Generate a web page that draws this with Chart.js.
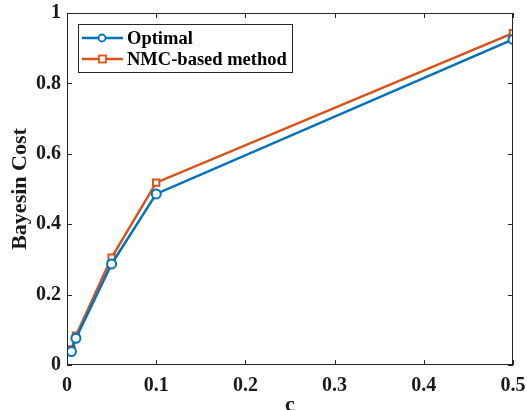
<!DOCTYPE html>
<html>
<head>
<meta charset="utf-8">
<script src="https://cdn.jsdelivr.net/npm/chart.js@4"></script>
<style>
  html,body{margin:0;padding:0;background:#fff;}
  #wrap{width:527px;height:410px;}
</style>
</head>
<body>
<div id="wrap"><canvas id="chart" width="527" height="410"></canvas></div>
<script>
// data
const cValues = [0.005, 0.01, 0.05, 0.1, 0.5];
const optimal = [0.038, 0.076, 0.287, 0.486, 0.925];
const nmcBased = [0.044, 0.083, 0.305, 0.518, 0.943];
const seriesNames = ["Optimal", "NMC-based method"];
const xTicks = [0, 0.1, 0.2, 0.3, 0.4, 0.5];
const yTicks = [0, 0.2, 0.4, 0.6, 0.8, 1];

const blue = "#0072BD";
const orange = "#D95319";
const font = "'Liberation Serif', 'Times New Roman', serif";

// box + inner ticks like matlab, plus legend
const boxPlugin = {
  id: "box",
  afterDraw(chart){
    const ctx = chart.ctx, a = chart.chartArea;
    const xs = chart.scales.x, ys = chart.scales.y;
    ctx.save();
    ctx.strokeStyle = "#262626";
    ctx.lineWidth = 1;
    ctx.strokeRect(a.left+0.5, a.top+0.5, a.right-a.left-1, a.bottom-a.top-1);
    xTicks.forEach(v=>{
      const px = Math.round(xs.getPixelForValue(v))+0.5;
      ctx.beginPath();
      ctx.moveTo(px, a.bottom); ctx.lineTo(px, a.bottom-5);
      ctx.moveTo(px, a.top); ctx.lineTo(px, a.top+5);
      ctx.stroke();
    });
    yTicks.forEach(v=>{
      const py = Math.round(ys.getPixelForValue(v))+0.5;
      ctx.beginPath();
      ctx.moveTo(a.left, py); ctx.lineTo(a.left+5, py);
      ctx.moveTo(a.right, py); ctx.lineTo(a.right-5, py);
      ctx.stroke();
    });

    // legend
    const lx = 78, ly = 24, lw = 214, lh = 48;
    ctx.fillStyle = "#fff";
    ctx.fillRect(lx, ly, lw, lh);
    ctx.strokeStyle = "#262626";
    ctx.lineWidth = 1;
    ctx.strokeRect(lx+0.5, ly+0.5, lw, lh);
    ctx.font = "bold 18.5px " + font;
    ctx.textBaseline = "middle";
    chart.data.datasets.forEach((ds, i)=>{
      const y = ly + 14 + i*21;
      ctx.strokeStyle = ds.borderColor;
      ctx.lineWidth = 2.5;
      ctx.beginPath();
      ctx.moveTo(lx+4, y); ctx.lineTo(lx+45, y);
      ctx.stroke();
      ctx.lineWidth = 1.8;
      ctx.fillStyle = "#fff";
      if (ds.pointStyle === "circle"){
        ctx.beginPath(); ctx.arc(lx+24, y, 3.5, 0, Math.PI*2); ctx.fill(); ctx.stroke();
      } else {
        ctx.fillRect(lx+21, y-3.5, 7, 7); ctx.strokeRect(lx+21, y-3.5, 7, 7);
      }
      ctx.fillStyle = "#000";
      ctx.fillText(ds.label, lx+49, y+1);
    });
    ctx.restore();
  }
};

new Chart(document.getElementById("chart"), {
  type: "line",
  data: {
    datasets: [
      {
        label: seriesNames[0],
        data: cValues.map((c,i)=>({x:c, y:optimal[i]})),
        borderColor: blue, backgroundColor: "#fff",
        borderWidth: 2.5, pointStyle: "circle", pointRadius: 4.5,
        pointBorderWidth: 2, tension: 0
      },
      {
        label: seriesNames[1],
        data: cValues.map((c,i)=>({x:c, y:nmcBased[i]})),
        borderColor: orange, backgroundColor: "#fff",
        borderWidth: 2.5, pointStyle: "rect", pointRadius: 4.5,
        pointBorderWidth: 2, tension: 0
      }
    ]
  },
  options: {
    responsive: false,
    animation: false,
    layout: { padding: { top: 13, right: 14, left: 0, bottom: 0 } },
    plugins: { legend: { display: false }, tooltip: { enabled: false } },
    scales: {
      x: {
        type: "linear", min: 0, max: 0.5,
        afterBuildTicks: s => { s.ticks = xTicks.map(v=>({value:v})); },
        afterFit: s => { s.height = 45; s.paddingLeft = 0; s.paddingRight = 0; },
        grid: { display: false, drawTicks: false },
        border: { display: false },
        ticks: { color: "#1a1a1a", padding: 9, maxRotation: 0,
          font: { family: font, size: 20, weight: "bold" },
          callback: v => String(v) },
        title: { display: true, text: "c", color: "#1a1a1a", padding: { top: 0, bottom: -9 },
          font: { family: font, size: 22, weight: "bold" } }
      },
      y: {
        type: "linear", min: 0, max: 1,
        afterBuildTicks: s => { s.ticks = yTicks.map(v=>({value:v})); },
        afterFit: s => { s.width = 67; s.paddingTop = 0; s.paddingBottom = 0; },
        grid: { display: false, drawTicks: false },
        border: { display: false },
        ticks: { color: "#1a1a1a", padding: 6,
          font: { family: font, size: 20, weight: "bold" },
          callback: v => String(v) },
        title: { display: true, text: "Bayesin Cost", color: "#1a1a1a", padding: { top: 7, bottom: 0 },
          font: { family: font, size: 22, weight: "bold" } }
      }
    }
  },
  plugins: [boxPlugin]
});
</script>
</body>
</html>
